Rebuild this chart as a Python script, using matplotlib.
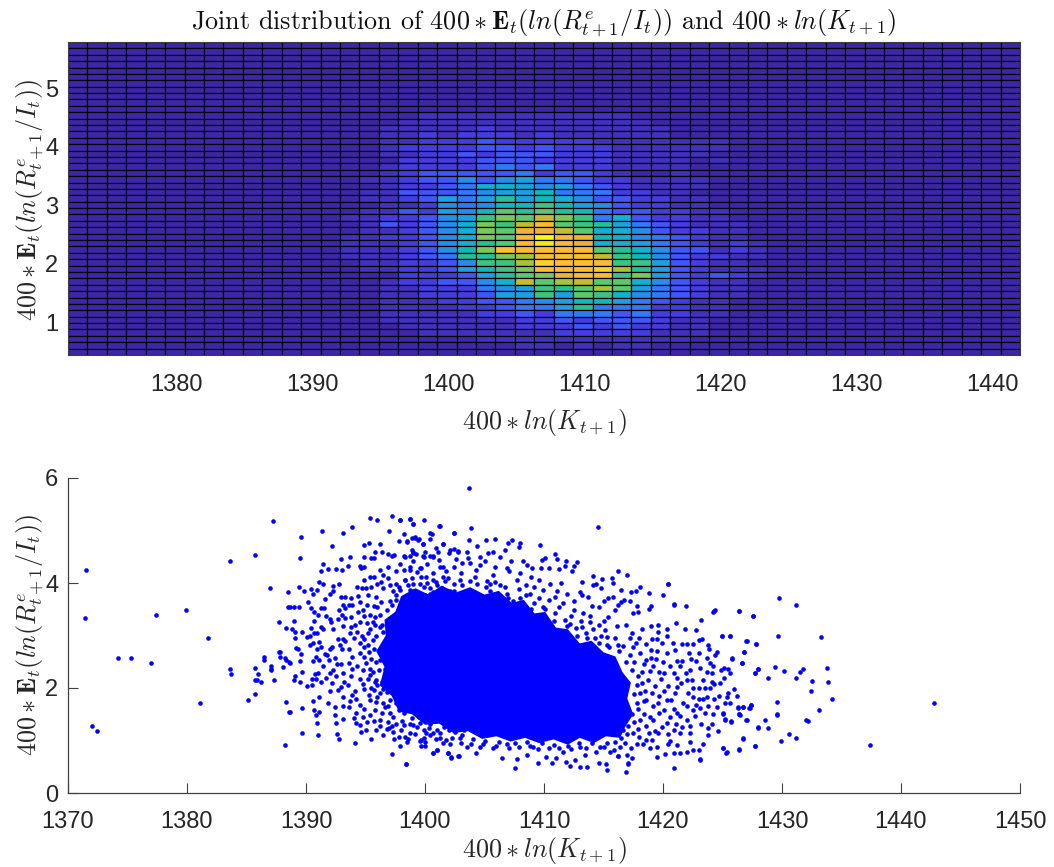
import numpy as np
import matplotlib
matplotlib.use("Agg")
import matplotlib.pyplot as plt
from matplotlib.colors import LinearSegmentedColormap

# ---------- data ----------
x_tick_top = [1380, 1390, 1400, 1410, 1420, 1430, 1440]
y_tick_top = [1, 2, 3, 4, 5]
x_tick_low = [1370, 1380, 1390, 1400, 1410, 1420, 1430, 1440, 1450]
y_tick_low = [0, 2, 4, 6]

# Heat levels (0-20), rows 11..48 from the top, columns 14..35 from the left; other cells are 0
heat_rows = [
 [0,0,0,0,1,1,1,1,1,1,1,1,1,1,1,0,0,0,0,0,0,0],
 [0,0,0,1,1,1,1,1,1,1,1,1,1,1,1,1,0,0,0,0,0,0],
 [0,0,1,1,1,1,1,2,1,1,1,1,1,1,1,1,1,0,0,0,0,0],
 [0,0,1,1,2,1,2,2,2,1,2,1,1,1,1,1,1,0,0,0,0,0],
 [0,0,1,1,2,2,2,3,2,2,2,2,2,1,1,1,1,1,1,1,0,0],
 [0,0,1,2,2,2,2,3,3,2,3,2,2,2,1,1,1,1,1,1,0,0],
 [0,0,1,1,2,2,3,2,3,3,3,2,2,2,1,1,1,1,1,0,0,0],
 [0,0,0,2,2,2,2,3,3,3,2,2,2,2,1,1,1,1,0,1,0,0],
 [0,0,1,2,2,2,2,3,4,3,4,2,2,2,1,1,1,1,0,0,0,0],
 [0,0,1,2,3,3,3,3,3,4,2,3,3,2,1,0,0,1,0,0,0,0],
 [0,1,1,2,3,3,5,3,5,6,4,4,3,2,2,1,1,1,1,0,0,0],
 [0,0,1,2,2,3,4,7,7,6,5,6,4,3,2,1,1,1,1,0,0,0],
 [0,1,1,3,3,3,4,5,6,6,8,4,4,4,2,2,1,1,0,0,0,0],
 [0,1,1,2,3,6,4,6,9,6,8,7,5,3,3,2,2,1,1,0,0,0],
 [0,0,1,1,2,5,4,5,8,8,10,8,6,5,3,2,2,1,1,0,0,0],
 [0,1,1,3,2,6,5,8,11,9,11,9,8,4,3,3,2,2,1,1,0,0],
 [1,1,2,2,3,5,6,10,12,11,14,12,10,4,7,3,2,2,1,1,0,0],
 [0,1,3,2,3,5,7,12,10,14,16,11,10,9,6,4,3,2,1,1,1,0],
 [0,1,1,2,3,5,7,12,11,15,15,14,11,7,7,5,3,2,2,1,1,0],
 [1,1,2,2,3,5,7,12,11,16,20,16,15,8,7,5,4,3,2,1,1,0],
 [1,1,1,2,3,5,7,9,11,16,19,16,15,7,7,6,4,3,2,1,2,1],
 [1,1,1,2,3,5,8,12,17,16,17,16,16,11,9,7,5,3,3,1,2,1],
 [1,1,1,2,3,4,9,9,12,13,16,17,17,14,10,8,5,3,2,2,1,1],
 [0,1,1,2,2,3,5,10,10,13,18,17,17,16,10,10,6,3,2,1,1,0],
 [0,1,1,2,2,3,6,8,10,12,17,17,17,18,13,9,6,3,2,1,1,1],
 [0,0,0,2,2,2,3,6,9,11,12,15,16,16,10,12,6,3,2,3,2,1],
 [0,0,1,2,2,3,3,5,7,14,11,13,14,11,11,7,5,3,2,1,1,0],
 [0,0,1,1,2,2,2,4,5,6,10,9,11,13,11,6,4,3,2,1,1,0],
 [0,0,1,1,2,2,2,3,6,6,10,6,11,10,7,5,4,3,2,1,1,0],
 [0,0,1,1,1,2,2,3,3,4,5,6,8,8,6,4,3,2,1,1,0,0],
 [0,0,1,1,1,1,2,2,3,4,4,6,9,4,4,4,2,2,1,1,0,0],
 [0,0,1,1,1,1,1,2,2,3,2,4,4,4,3,4,2,2,1,1,0,0],
 [0,0,1,1,1,1,1,1,1,2,2,3,2,3,3,3,2,1,1,0,0,0],
 [0,0,0,1,1,1,1,1,1,2,2,2,3,2,3,2,2,1,1,0,0,0],
 [0,0,0,0,1,1,1,1,1,1,1,2,2,2,2,2,1,1,1,0,0,0],
 [0,0,0,0,0,0,0,1,1,1,1,1,1,1,1,1,1,1,0,0,0,0],
 [0,0,0,0,0,0,0,0,0,1,1,0,1,0,1,1,0,0,0,0,0,0],
 [0,0,0,0,0,0,0,0,0,0,0,0,0,0,0,0,0,0,0,0,0,0],
]

pts_far = [
 (1371.5,4.25),(1371.4,3.33),(1372.0,1.27),(1372.4,1.18),(1374.2,2.57),(1375.3,2.57),(1377.0,2.47),(1377.4,3.39),
 (1379.9,3.49),(1381.1,1.72),(1381.8,2.95),(1383.6,4.41),(1383.6,2.36),(1383.7,2.26),(1385.1,1.77),(1385.7,4.54),
 (1385.7,1.88),(1385.7,2.38),(1385.95,2.26),(1385.75,2.16),(1385.9,2.16),(1386.2,2.11),(1386.5,2.60),(1386.5,2.53),
 (1387.0,3.91),(1387.2,5.19),(1387.1,2.42),(1387.1,2.36),(1387.1,2.34),(1387.3,2.16),(1387.7,2.68),(1387.8,2.68),
 (1387.8,2.60),(1388.1,2.40),(1388.2,0.92),(1388.3,1.73),(1388.6,1.55),(1388.3,3.15),(1387.7,3.26),(1388.5,3.82),
 (1388.2,2.57),(1388.3,2.53),(1388.6,2.49),(1388.5,3.55),(1442.8,1.71),(1437.4,0.92),(1433.3,2.97),(1433.8,2.39),
 (1433.9,2.11),(1434.2,1.79),(1433.1,1.58),(1432.5,2.14),(1432.4,1.95),(1431.75,2.37),(1431.5,2.30),(1431.15,2.19),
 (1431.2,3.58),(1429.75,3.71),(1429.65,3.0),(1429.4,2.4),(1430.15,2.33),(1428.8,2.19),(1428.0,2.36),(1427.7,2.28),
 (1429.6,1.74),(1429.55,1.51),(1429.6,1.48),(1428.55,1.4),(1428.8,1.23),(1427.95,1.23),(1427.05,1.39),(1427.4,1.67),
 (1427.3,1.61),(1426.75,1.64),(1426.3,1.62),(1426.35,1.51),(1426.5,1.49),(1425.7,1.36),(1425.2,1.4),(1425.0,1.51),
 (1432.0,1.39),(1432.15,1.38),(1430.6,1.12),(1431.2,1.04),(1429.9,0.99),(1427.7,0.89),(1426.7,1.03),(1426.4,0.81),
 (1425.3,0.77),(1425.0,0.85),(1423.1,0.63),(1426.4,3.46),(1427.6,3.38),(1424.4,3.48),(1424.2,3.45),(1425.6,3.0),
 (1424.95,2.99),(1427.05,2.89),(1427.8,2.83),(1426.8,2.68),(1426.65,2.47),(1425.8,2.56),
]

pts_left = [
 (1395.4,5.24),(1396.0,5.20),(1397.2,5.28),(1397.9,5.20),(1398.7,5.21),(1399.0,5.12),(1399.9,5.20),(1401.3,5.08),
 (1393.9,5.06),(1391.35,5.0),(1393.1,4.95),(1389.6,4.88),(1397.0,5.0),(1402.4,4.95),(1398.2,4.93),(1400.4,4.96),
 (1400.6,4.93),(1392.2,4.70),(1394.9,4.72),(1395.3,4.77),(1396.2,4.75),(1397.85,4.8),(1398.5,4.79),(1398.9,4.86),
 (1399.2,4.88),(1399.4,4.82),(1399.8,4.74),(1400.4,4.83),(1401.5,4.75),(1389.5,4.48),(1391.4,4.36),(1391.3,4.22),
 (1391.85,4.27),(1392.5,4.26),(1393.0,4.25),(1392.9,4.45),(1393.7,4.49),(1393.5,4.32),(1394.85,4.49),(1395.8,4.59),
 (1396.4,4.59),(1395.5,4.48),(1395.7,4.47),(1396.9,4.55),(1397.2,4.51),(1397.4,4.54),(1398.2,4.52),(1398.9,4.63),
 (1399.0,4.58),(1399.25,4.55),(1398.7,4.51),(1400.0,4.6),(1399.8,4.52),(1400.4,4.51),(1400.7,4.51),(1400.9,4.66),
 (1401.1,4.59),(1402.0,4.58),(1402.4,4.65),(1402.8,4.61),(1394.5,4.32),(1394.6,4.28),(1394.9,4.31),(1391.1,4.01),
 (1391.4,3.98),(1389.4,3.93),(1389.8,3.85),(1390.4,3.88),(1390.6,3.8),(1390.9,3.87),(1392.3,3.94),(1392.8,3.98),
 (1392.3,3.85),(1392.0,3.79),(1391.6,3.69),(1390.2,3.64),(1389.0,3.54),(1388.66,3.54),(1389.4,3.55),(1390.4,3.53),
 (1391.3,3.52),(1391.5,3.52),(1390.7,3.45),(1391.0,3.4),(1391.7,3.37),(1392.95,3.74),(1393.3,3.73),(1393.8,3.71),
 (1394.5,3.63),(1393.1,3.59),(1393.6,3.58),(1393.9,3.59),(1393.3,3.52),(1392.8,3.49),(1393.0,3.39),(1389.0,3.27),
 (1390.7,3.27),(1392.0,3.31),(1392.1,3.26),(1392.7,3.31),(1393.3,3.34),(1393.8,3.36),(1388.8,3.12),(1389.1,3.07),
 (1389.7,3.06),(1390.1,2.98),(1390.45,3.14),(1391.3,3.17),(1391.4,3.13),(1390.9,3.05),(1390.7,3.05),(1390.3,2.99),
 (1389.1,2.96),(1389.2,2.77),(1389.3,2.75),(1389.6,2.65),(1388.66,2.48),(1389.5,2.51),(1390.3,2.82),(1390.6,2.85),
 (1391.1,2.87),(1391.3,2.79),(1390.9,2.75),(1391.6,2.65),(1391.75,2.63),(1390.8,2.6),(1392.15,2.79),(1392.0,2.74),
 (1392.7,2.94),(1393.1,2.94),(1392.85,2.82),(1393.0,2.75),(1393.3,2.9),(1392.3,3.12),(1393.1,3.18),(1393.8,3.17),
 (1390.6,2.51),(1391.1,2.54),(1391.9,2.53),(1391.4,2.41),(1392.4,2.58),(1392.6,2.46),(1392.9,2.46),(1393.65,2.47),
 (1389.1,2.22),(1389.0,2.15),(1389.7,2.3),(1390.75,2.27),(1391.0,2.29),(1390.5,2.17),(1390.85,2.17),(1391.3,2.12),
 (1389.5,2.12),(1390.1,2.04),(1390.5,2.06),(1391.7,2.2),(1392.0,2.29),(1392.3,2.34),(1392.2,2.1),(1392.5,2.22),
 (1393.1,2.28),(1393.2,2.12),(1393.8,2.23),(1392.0,1.95),(1392.7,1.96),(1392.9,2.01),(1390.6,1.76),(1391.1,1.83),
 (1391.85,1.71),(1389.7,1.61),(1388.66,1.55),(1390.7,1.58),(1391.1,1.54),(1390.8,1.48),(1392.4,1.64),(1393.1,1.65),
 (1393.65,1.64),(1393.85,1.87),(1393.1,1.83),(1389.7,1.14),(1391.0,1.10),(1390.9,1.33),(1392.4,1.48),(1392.5,1.34),
 (1393.1,1.41),(1392.6,1.13),(1392.8,1.03),(1394.1,0.95),(1395.5,1.03),(1397.2,0.74),(1398.4,0.56),(1394.2,1.34),
 (1394.5,1.29),(1394.6,1.17),(1395.0,1.2),(1394.2,1.52),(1394.8,1.45),(1395.4,1.48),(1395.7,1.37),(1396.2,1.28),
 (1396.8,1.21),(1397.3,1.17),(1397.8,1.06),(1398.5,0.98),(1397.9,0.89),(1399.7,1.01),(1399.7,0.9),(1400.0,0.89),
 (1400.65,0.77),(1401.0,0.82),(1401.9,0.77),(1402.2,0.68),(1402.8,0.7),
 (1394.3,3.93),(1394.7,3.9),(1395.0,3.91),(1395.4,4.12),(1395.7,4.12),(1396.2,4.24),(1396.5,4.16),(1396.9,4.09),
 (1397.6,4.22),(1398.2,4.25),(1398.7,4.31),(1399.3,4.21),(1399.7,4.28),(1400.1,4.12),(1400.7,4.05),(1401.3,4.31),
 (1401.8,4.22),(1395.9,3.74),(1396.5,3.9),(1397.1,3.96),(1397.6,3.99),(1398.3,4.05),(1399.0,3.99),(1399.9,3.93),
 (1400.4,3.9),(1394.4,3.45),(1394.8,3.48),(1395.4,3.39),(1395.8,3.36),(1394.5,3.26),(1395.1,3.23),(1395.8,3.2),
 (1396.2,3.17),(1394.3,3.07),(1394.7,3.0),(1395.2,3.04),(1395.9,3.0),(1396.5,3.07),(1396.9,3.13),(1394.5,2.85),
 (1394.9,2.79),(1395.7,2.75),(1396.4,2.79),(1396.9,2.85),(1394.5,2.66),(1394.9,2.6),(1395.5,2.56),(1396.2,2.53),
 (1396.8,2.6),(1394.3,2.41),(1394.8,2.34),(1395.4,2.37),(1396.1,2.34),(1396.6,2.37),(1394.5,2.18),(1395.2,2.18),
 (1395.8,2.12),(1396.4,2.12),(1397.0,2.15),(1394.9,1.99),(1395.7,1.96),(1396.2,1.9),(1396.8,1.93),(1397.3,1.96),
 (1395.4,1.77),(1395.9,1.74),(1396.5,1.71),(1397.1,1.77),(1397.6,1.71),(1398.2,1.74),(1394.5,1.68),(1395.8,1.58),
 (1396.4,1.52),(1397.1,1.52),(1397.8,1.58),(1398.2,1.52),(1396.2,1.39),(1396.9,1.36),(1397.6,1.32),(1398.2,1.29),
 (1398.7,1.32),(1399.3,1.26),(1399.9,1.2),(1400.7,1.14),(1401.3,1.14),(1401.8,1.01),(1398.7,1.14),(1397.6,3.77),
 (1397.9,3.87),(1398.7,3.87),(1399.3,3.83),(1400.0,3.77),(1400.7,3.83),(1401.4,3.9),(1402.4,3.85),(1397.1,3.65),
 (1397.6,3.68),(1398.2,3.55),(1397.3,3.32),(1397.6,3.1),(1399.0,1.3),(1399.5,1.45),(1400.4,1.32),(1401.6,1.25),
]

pts_top = [
 (1403.7,5.81),(1414.5,5.06),(1397.9,5.2),(1398.7,5.22),(1399.0,5.13),(1401.2,5.09),(1403.9,5.04),(1402.4,4.95),
 (1399.2,4.85),(1399.5,4.83),(1398.5,4.8),(1399.8,4.74),(1403.7,4.82),(1405.1,4.82),(1405.9,4.83),(1401.5,4.75),
 (1404.4,4.71),(1407.3,4.82),(1409.7,4.73),(1408.0,4.76),(1407.9,4.69),(1407.0,4.76),(1406.75,4.63),(1410.95,4.56),
 (1410.1,4.47),(1409.8,4.44),(1411.1,4.45),(1411.85,4.42),(1412.8,4.4),(1412.5,4.33),(1408.2,4.41),(1408.6,4.34),
 (1409.0,4.28),(1409.75,4.29),(1410.45,4.28),(1411.3,4.27),(1411.8,4.33),(1412.35,4.23),(1413.2,4.02),(1414.15,4.14),
 (1414.9,4.07),(1415.7,4.09),(1416.25,4.22),(1417.0,4.15),(1415.8,4.0),(1414.4,3.99),(1414.1,3.96),(1414.8,3.9),
 (1420.45,3.98),(1420.0,3.78),(1418.8,3.81),(1418.1,3.92),(1416.5,3.87),(1417.75,3.84),(1417.3,3.82),(1420.9,3.59),
 (1421.9,3.57),(1419.0,3.57),(1418.8,3.5),(1417.8,3.56),(1417.2,3.65),(1416.7,3.68),(1415.4,3.72),(1415.8,3.74),
 (1413.7,3.73),(1415.0,3.66),(1414.0,3.56),(1414.6,3.55),(1416.25,3.58),(1416.5,3.63),(1417.9,3.45),(1417.5,3.42),
 (1416.0,3.49),(1415.4,3.36),(1413.3,3.42),(1412.5,3.49),(1411.6,3.61),(1411.9,3.8),(1411.1,3.84),(1409.9,3.87),
 (1409.2,3.93),(1408.5,3.96),(1413.2,3.77),(1413.0,3.82),
 (1402.1,4.63),(1402.8,4.6),(1403.5,4.6),(1404.6,4.5),(1405.3,4.57),(1405.75,4.6),(1406.3,4.5),(1406.9,4.28),
 (1404.6,4.34),(1403.8,4.38),(1403.1,4.38),(1402.4,4.31),(1401.5,4.31),(1400.7,4.5),(1399.9,4.5),(1399.0,4.6),
 (1398.3,4.5),(1398.7,4.25),(1399.6,4.28),(1400.7,4.19),(1401.5,4.12),(1403.0,4.19),(1404.3,4.25),(1405.75,4.15),
 (1407.1,4.22),(1407.7,4.06),(1406.3,3.96),(1405.2,4.03),(1403.8,4.03),(1402.4,3.99),(1401.0,3.96),(1399.6,3.99),
 (1398.3,4.06),(1399.0,3.84),(1400.4,3.8),(1402.1,3.84),(1403.8,3.84),(1405.5,3.84),(1406.9,3.8),(1408.5,3.77),
 (1398.2,3.68),(1404.9,3.7),(1406.2,3.72),(1407.4,3.66),(1408.3,3.55),(1409.2,3.62),(1410.1,3.5),(1410.9,3.42),
 (1411.8,3.3),(1412.7,3.15),(1413.5,3.05),(1414.3,2.96),(1415.1,3.1),(1416.0,2.95),(1416.6,2.8),(1412.2,3.22),
 (1413.9,3.25),(1415.3,2.82),(1416.9,3.2),(1417.4,3.05),(1418.2,3.12),(1417.7,2.85),(1414.6,3.2),
]

pts_right = [
 (1420.4,3.98),(1420.9,3.6),(1424.3,3.47),(1426.4,3.47),(1427.6,3.38),(1423.2,3.29),(1421.1,3.23),(1421.85,3.13),
 (1422.8,3.1),(1420.3,3.13),(1419.55,3.2),(1418.95,3.18),(1419.6,3.07),(1420.3,3.0),(1424.95,2.99),(1425.6,3.0),
 (1427.0,2.9),(1427.8,2.83),(1423.0,2.92),(1423.3,2.94),(1419.1,2.93),(1419.5,2.93),(1419.9,2.85),(1420.8,2.86),
 (1421.6,2.83),(1422.0,2.83),(1422.5,2.83),(1423.8,2.82),(1423.9,2.75),(1421.0,2.72),(1422.2,2.66),(1424.5,2.69),
 (1424.35,2.63),(1426.8,2.68),(1425.8,2.57),(1426.6,2.47),(1421.15,2.52),(1421.6,2.52),(1422.35,2.55),(1423.0,2.66),
 (1422.8,2.52),(1423.7,2.57),(1423.95,2.47),(1424.2,2.41),(1425.1,2.39),(1425.45,2.36),(1424.9,2.34),(1425.6,2.28),
 (1425.15,2.2),(1427.7,2.29),(1428.0,2.36),(1422.3,2.35),(1423.1,2.38),(1423.7,2.31),(1424.1,2.28),(1423.4,2.15),
 (1424.1,2.12),(1424.8,2.09),(1424.3,2.08),(1423.95,2.0),(1423.5,2.0),(1423.0,2.0),(1426.0,1.99),(1426.2,1.85),
 (1425.5,1.91),(1425.4,1.82),(1424.7,1.85),(1424.3,1.8),(1425.2,1.71),(1425.6,1.72),(1423.7,1.82),(1423.4,1.79),
 (1423.0,1.79),(1422.1,1.91),(1422.5,1.82),(1424.5,1.63),(1423.75,1.65),(1423.5,1.53),(1423.1,1.61),(1422.55,1.58),
 (1426.3,1.63),(1426.75,1.63),(1427.4,1.67),(1427.25,1.61),(1426.4,1.51),(1427.0,1.39),(1425.0,1.52),(1425.2,1.41),
 (1425.7,1.37),(1424.1,1.31),(1423.75,1.23),(1428.0,1.25),(1426.7,1.04),(1427.7,0.9),(1423.4,0.94),(1422.3,0.97),
 (1425.0,0.86),(1425.35,0.78),(1426.4,0.83),(1422.55,0.82),(1423.0,0.81),(1422.0,0.78),(1421.4,0.76),(1423.1,0.64),
 (1420.9,0.47),(1420.9,0.77),(1420.2,0.75),(1419.5,0.69),(1418.9,0.86),(1419.5,0.88),(1420.6,1.0),(1420.45,0.94),
 (1421.15,0.92),(1419.1,1.01),(1416.85,0.4),(1415.3,0.43),(1417.1,0.58),(1416.25,0.71),
 (1417.5,2.79),(1418.1,2.66),(1418.6,2.54),(1419.2,2.41),(1419.7,2.3),(1420.3,2.66),(1420.9,2.28),(1421.4,2.41),
 (1422.0,2.15),(1417.6,2.5),(1418.2,2.3),(1418.7,2.15),(1419.3,2.03),(1419.8,2.18),(1420.4,2.03),(1421.0,1.9),
 (1421.5,2.1),(1422.0,1.65),(1417.8,2.05),(1418.1,1.9),(1418.6,1.77),(1419.2,1.65),(1419.7,1.85),(1420.3,1.77),
 (1420.9,1.6),(1421.4,1.46),(1422.0,1.39),(1417.9,1.6),(1418.1,1.39),(1418.6,1.27),(1419.2,1.39),(1419.7,1.52),
 (1420.3,1.33),(1420.9,1.2),(1421.4,1.15),(1422.3,1.14),(1417.5,1.14),(1418.0,1.06),(1418.6,1.01),(1419.6,1.14),
 (1416.5,1.05),(1417.1,1.27),(1417.4,1.5),(1418.4,2.45),(1419.0,2.72),(1420.0,2.5),(1420.6,2.42),(1421.2,2.2),
 (1422.5,2.0),(1422.7,1.46),(1424.2,1.5),(1423.8,1.1),(1424.6,1.18),
]

pts_bottom = [
 (1398.4,0.55),(1400.65,0.77),(1401.0,0.81),(1401.9,0.77),(1402.15,0.67),(1402.85,0.7),(1404.3,0.76),(1406.5,0.67),
 (1407.55,0.48),(1407.75,0.64),(1409.5,0.58),(1410.7,0.57),(1411.85,0.59),(1412.2,0.52),(1412.6,0.62),(1413.05,0.5),
 (1413.6,0.5),(1414.65,0.57),(1415.2,0.56),(1416.2,0.7),(1416.95,0.72),(1417.1,0.56),(1417.4,0.66),(1415.55,0.78),
 (1413.45,0.72),(1411.05,0.66),(1410.2,0.69),(1408.55,0.72),(1399.6,1.0),(1400.0,0.97),(1398.3,1.07),(1400.4,1.1),
 (1401.25,1.04),(1402.1,0.94),(1403.5,0.88),(1404.6,0.88),(1405.75,0.85),(1407.1,0.85),(1409.1,0.88),(1411.6,0.78),
 (1413.0,0.88),(1414.7,0.88),(1416.4,0.88),(1417.8,0.94),(1402.9,1.05),(1404.0,1.02),(1405.0,1.0),(1406.2,0.98),
 (1407.6,0.95),(1408.6,0.98),(1409.8,0.96),(1410.8,0.92),(1412.0,0.9),(1412.9,0.96),(1414.0,0.95),(1415.3,0.95),
 (1416.0,0.98),(1403.3,1.2),(1402.5,1.17),(1401.8,1.3),
]

# Placed by eye to thicken the crowded band around the centre: not traced one by one
pts_crowded_band = [
 (1396.3,4.02),(1397.3,3.84),(1398.6,3.97),(1399.7,4.12),(1400.9,4.02),(1401.9,4.09),(1403.1,3.97),(1404.2,4.12),
 (1405.1,3.92),(1405.9,4.02),(1406.7,3.92),(1407.9,3.88),(1408.8,3.79),(1409.6,3.72),(1410.4,3.67),(1411.3,3.55),
 (1412.3,3.38),(1413.1,3.27),(1414.1,3.12),(1415.3,2.98),(1416.2,2.82),(1395.2,3.77),(1395.7,3.57),(1396.3,3.64),
 (1396.8,3.48),(1395.1,3.58),(1394.9,3.37),(1395.4,3.12),(1394.9,2.93),(1395.3,2.68),(1395.0,2.47),(1395.4,2.25),
 (1394.8,2.07),(1395.3,1.87),(1396.0,1.83),(1394.9,1.6),(1396.6,1.63),(1395.1,1.35),(1395.9,1.2),(1396.5,1.1),
 (1397.2,1.27),(1397.4,1.03),(1398.0,1.2),(1398.6,1.02),(1399.2,1.12),(1399.9,1.05),(1400.3,1.23),(1400.9,1.02),
 (1401.5,0.95),(1402.3,1.05),(1403.0,0.95),(1403.9,0.93),(1404.9,0.93),(1406.0,0.9),(1406.9,0.93),(1407.9,0.87),
 (1408.8,0.9),(1409.5,0.83),(1410.4,0.86),(1411.3,0.85),(1412.3,0.83),(1413.5,0.85),(1414.4,0.78),(1415.0,0.87),
 (1415.9,0.82),(1416.8,0.95),(1417.3,0.85),(1418.3,0.93),(1417.0,1.12),(1417.9,1.22),(1418.4,1.5),(1417.8,1.72),
 (1418.5,1.95),(1417.9,2.22),(1417.4,2.35),(1416.9,2.5),(1417.2,2.62),(1416.3,2.7),(1415.5,2.78),(1414.6,2.86),
 (1413.6,2.95),(1412.8,3.0),(1411.9,3.18),(1410.8,3.28),(1409.9,3.55),(1408.9,3.5),(1408.0,3.72),(1407.0,3.72),
 (1405.5,3.98),(1404.4,3.98),(1402.9,4.06),(1401.7,4.03),(1400.2,4.0),(1398.9,4.1),(1397.8,3.92),(1397.2,3.58),
 (1396.2,3.4),(1396.0,3.55),(1395.6,3.25),(1396.4,3.2),(1395.6,2.92),(1395.2,2.82),(1395.9,2.5),(1395.6,2.3),
 (1395.9,2.15),(1396.0,2.05),(1395.5,2.0),(1396.5,1.98),(1396.9,1.65),(1397.3,1.45),(1397.0,1.23),(1398.1,1.38),
 (1398.9,1.43),(1399.6,1.33),(1400.1,1.15),(1401.0,1.2),(1402.0,1.2),(1403.1,1.1),(1415.9,1.17),(1416.6,1.2),
 (1417.6,1.35),(1417.6,1.88),(1418.2,2.1),(1418.9,2.32),(1419.4,2.55),(1418.6,2.83),(1418.0,2.95),(1419.5,2.7),
 (1419.1,1.9),(1420.1,1.95),(1420.7,1.78),(1420.6,1.45),(1419.9,1.25),(1419.3,1.18),(1418.8,1.14),(1420.4,1.12),
 (1421.1,1.32),(1421.7,1.72),(1421.2,2.02),(1420.1,2.28),(1419.0,2.58),(1418.4,1.75),(1419.6,1.72),(1418.9,1.45),
 (1420.1,1.58),(1421.2,1.52),(1421.9,2.28),(1422.4,2.15),(1422.8,1.68),(1423.2,1.32),(1422.3,1.28),(1421.6,1.25),
 (1393.9,2.6),(1394.0,2.95),(1393.7,3.05),(1394.1,3.2),(1393.6,2.75),(1393.9,2.36),(1393.5,2.05),(1394.1,1.95),
 (1393.7,1.75),(1394.2,1.8),(1394.0,1.42),(1394.4,3.75),(1394.9,4.05),(1395.5,3.92),(1396.0,3.98),(1396.9,4.3),
 (1397.9,4.37),(1399.0,4.41),(1400.2,4.36),(1401.2,4.44),(1402.6,4.45),(1403.6,4.48),(1405.0,4.42),(1405.9,4.3),
 (1407.2,4.41),(1408.0,4.2),(1408.9,4.12),(1409.6,4.05),(1410.5,3.98),(1411.4,4.0),(1412.5,3.65),(1410.9,3.73),
 (1413.9,3.38),(1415.0,3.28),(1416.1,3.18),(1417.2,2.95),(1414.8,3.0),(1413.2,3.17),
]

# Outline of the saturated centre, where individual markers can no longer be told apart
dense_core_x = [1398.0,1399.2,1400.3,1401.4,1402.6,1403.8,1405.0,1406.2,1407.3,1408.3,1409.2,1410.1,1411.0,1412.0,1413.0,
                1414.0,1415.0,1416.0,1416.6,1417.3,1417.0,1417.5,1416.8,1416.4,1415.2,1414.2,1413.0,1412.0,1410.8,1409.6,
                1408.4,1407.2,1406.0,1404.8,1403.6,1402.4,1401.2,1400.0,1398.9,1397.8,1397.2,1396.2,1396.6,1395.9,1396.7,
                1396.6,1397.5]
dense_core_y = [3.75,3.90,3.78,3.95,3.82,3.92,3.78,3.85,3.62,3.68,3.42,3.45,3.15,3.12,2.85,
                2.90,2.68,2.60,2.30,2.10,1.80,1.50,1.25,1.05,1.08,0.95,1.05,0.92,1.02,0.95,
                1.05,0.98,1.08,1.03,1.18,1.14,1.32,1.30,1.50,1.55,1.85,2.05,2.40,2.70,3.00,
                3.30,3.45]

# ---------- styling ----------
plt.rcParams["font.family"] = ["Liberation Sans", "DejaVu Sans"]
plt.rcParams["mathtext.fontset"] = "cm"
INK = "#262626"
level_colors = ["#3E26A8","#4232BE","#443CE1","#4155FA","#3278FA","#288CEB","#1EA0E1","#14AFD2","#0FB9B9",
                "#28BE96","#3CC382","#5AC86E","#78C85A","#A5C33C","#C3BB32","#EBB437","#FAB937","#FFBE32",
                "#FAD228","#F5E61E","#FAFA0A"]
parula_like = LinearSegmentedColormap.from_list("parula_like", level_colors)

W, H = 1054, 867
fig = plt.figure(figsize=(W / 100, H / 100), dpi=100)
ax_top = fig.add_axes([68 / W, 1 - 355 / H, 952 / W, 313 / H])
ax_low = fig.add_axes([68 / W, 1 - 793 / H, 952 / W, 315 / H])

# top panel
heat = np.zeros((49, 49))
heat[11:49, 14:36] = np.array(heat_rows)
x_edges = np.linspace(1372, 1442, 50)
y_edges = np.linspace(5.79, 0.44, 50)
ax_top.pcolormesh(x_edges, y_edges, heat, cmap=parula_like, vmin=0, vmax=20,
                  edgecolors="#000000", linewidth=0.85, antialiased=True)
ax_top.set_xlim(1372, 1442)
ax_top.set_ylim(0.44, 5.79)
ax_top.set_xticks(x_tick_top)
ax_top.set_yticks(y_tick_top)
ax_top.tick_params(length=0, labelsize=17, colors=INK, pad=14)
ax_top.tick_params(axis="y", pad=7)
for s in ax_top.spines.values():
    s.set_color("#404040")
    s.set_linewidth(0.8)

xlab = r"$400*ln(K_{t+1})$"
ylab = r"$400*\mathbf{E}_t(ln(R^e_{t+1}/I_t))$"
fig.text(544 / W, 1 - 423 / H, xlab, ha="center", va="center", fontsize=18.8, color=INK)
fig.text(30 / W, 1 - 200 / H, ylab, ha="center", va="center", rotation=90, fontsize=18.8, color=INK)
fig.text(544 / W, 1 - 23 / H,
         r"Joint distribution of $400*\mathbf{E}_t(ln(R^e_{t+1}/I_t))$ and $400*ln(K_{t+1})$",
         ha="center", va="center", fontsize=18.8, color="#111111", family="cmr10")

# bottom panel
all_pts = np.array(pts_far + pts_left + pts_top + pts_right + pts_bottom + pts_crowded_band)
ax_low.fill(dense_core_x, dense_core_y, color="#0000FF", lw=0, zorder=2)
ax_low.plot(all_pts[:, 0], all_pts[:, 1], ls="none", marker="o", ms=3.3, mfc="#0000FF", mec="none", zorder=3, clip_on=False)
ax_low.set_xlim(1370, 1450)
ax_low.set_ylim(0, 6)
ax_low.set_xticks(x_tick_low)
ax_low.set_yticks(y_tick_low)
ax_low.spines["top"].set_visible(False)
ax_low.spines["right"].set_visible(False)
for s in ("left", "bottom"):
    ax_low.spines[s].set_color("#404040")
    ax_low.spines[s].set_linewidth(0.9)
ax_low.tick_params(direction="in", length=7.5, width=0.8, color="#404040", labelsize=17, labelcolor=INK)
ax_low.tick_params(axis="x", pad=13)
ax_low.tick_params(axis="y", pad=7)
fig.text(544 / W, 1 - 850 / H, xlab, ha="center", va="center", fontsize=18.8, color=INK)
fig.text(30 / W, 1 - 635 / H, ylab, ha="center", va="center", rotation=90, fontsize=18.8, color=INK)

fig.savefig("out.png", dpi=100)
